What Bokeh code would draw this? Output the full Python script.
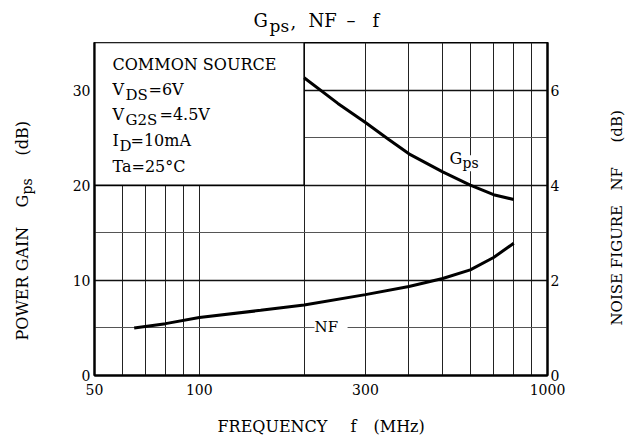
from bokeh.plotting import figure
from bokeh.layouts import column, row
from bokeh.models import (Range1d, LinearAxis, FixedTicker, Grid, Label,
                          NumeralTickFormatter)
from bokeh.embed import file_html
from bokeh.resources import INLINE
import math

# ---- data ----
gps_freq = [200, 250, 300, 350, 400, 500, 600, 700, 800]
gps_db = [31.3, 28.6, 26.6, 24.8, 23.3, 21.4, 20.0, 19.0, 18.5]

nf_freq = [65, 80, 100, 150, 200, 300, 400, 500, 600, 700, 800]
nf_db = [1.0, 1.09, 1.22, 1.37, 1.48, 1.70, 1.87, 2.04, 2.22, 2.48, 2.78]

x_ticks = [50, 100, 300, 1000]
x_grid = [60, 70, 80, 90, 100, 200, 300, 400, 500, 600, 700, 800, 900]
gps_ticks = [0, 10, 20, 30]
nf_ticks = [0, 2, 4, 6]
gps_grid_major = [10, 20, 30]
gps_grid_minor = [5, 15, 25]
inset_box = dict(left=50, right=200, bottom=20, top=35)

FONT = "DejaVu Serif"
BASE = 0.38   # label anchor sits this fraction of the font size above the baseline

# page layout (pixels): top strip, left strip, main plot, right strip, bottom strip
TOTAL_W = 632
TOP_H = 42
LEFT_W = 40
RIGHT_W = 32
MAIN_W = TOTAL_W - LEFT_W - RIGHT_W      # 560
MAIN_H = 363
BOT_H = 32
FL, FR, FT, FB = 94, 547, 42, 375        # frame edges on the page


def blank(w, h):
    f = figure(width=w, height=h, x_range=Range1d(0, w), y_range=Range1d(0, h),
               x_axis_location=None, y_axis_location=None,
               toolbar_location=None, output_backend="svg", min_border=0)
    f.outline_line_color = None
    f.background_fill_color = "white"
    f.border_fill_color = "white"
    f.title.visible = False
    for g in f.xgrid + f.ygrid:
        g.visible = False
    return f


def add_label(fig, text, x, y, size, angle=0.0, bg=None):
    kw = {}
    if bg:
        kw["background_fill_color"] = bg
    if angle == 0.0:
        y = y + BASE * size
    else:
        x = x - BASE * size
    fig.add_layout(Label(x=x, y=y, x_units="screen", y_units="screen",
                         text=text, text_font=FONT, text_font_size=f"{size}px",
                         text_color="black", text_align="left",
                         text_baseline="alphabetic", angle=angle, **kw))


# ---------------- main plot ----------------
p = figure(width=MAIN_W, height=MAIN_H, x_axis_type="log",
           x_range=Range1d(50, 1000), y_range=Range1d(0, 35),
           output_backend="svg", toolbar_location=None,
           min_border_left=FL - LEFT_W, min_border_right=LEFT_W + MAIN_W - FR,
           min_border_top=0, min_border_bottom=TOP_H + MAIN_H - FB)
p.title.visible = False
p.extra_y_ranges = {"nf": Range1d(0, 7)}
p.outline_line_color = "black"
p.outline_line_width = 2
p.background_fill_color = "white"
p.border_fill_color = "white"

p.xaxis.ticker = FixedTicker(ticks=x_ticks)
p.xaxis.formatter = NumeralTickFormatter(format="0")
p.yaxis.ticker = FixedTicker(ticks=gps_ticks)
ax_r = LinearAxis(y_range_name="nf", ticker=FixedTicker(ticks=nf_ticks))
p.add_layout(ax_r, "right")
for ax in [p.xaxis[0], p.yaxis[0], ax_r]:
    ax.axis_line_color = "black"
    ax.axis_line_width = 2
    ax.major_tick_in = 0
    ax.major_tick_out = 0
    ax.minor_tick_in = 0
    ax.minor_tick_out = 0
    ax.major_label_text_font = FONT
    ax.major_label_text_font_size = "14px"
    ax.major_label_text_color = "black"
p.xaxis.major_label_standoff = 8
p.yaxis.major_label_standoff = 4
ax_r.major_label_standoff = 3

p.xgrid.ticker = FixedTicker(ticks=x_grid)
p.xgrid.grid_line_color = "#222222"
p.xgrid.grid_line_width = 1
p.ygrid.ticker = FixedTicker(ticks=gps_grid_major)
p.ygrid.grid_line_color = "#111111"
p.ygrid.grid_line_width = 1.6
p.add_layout(Grid(dimension=1, ticker=FixedTicker(ticks=gps_grid_minor),
                  grid_line_color="#555555", grid_line_width=1))

p.quad(left=[inset_box["left"]], right=[inset_box["right"]],
       bottom=[inset_box["bottom"]], top=[inset_box["top"]],
       fill_color="white", line_color="black", line_width=1.5)

p.line(gps_freq, gps_db, line_color="black", line_width=3)
p.line(nf_freq, nf_db, line_color="black", line_width=3, y_range_name="nf")


def mlab(text, px, py, size, bg=None):
    add_label(p, text, px - FL, FB - py, size, bg=bg)


mlab("COMMON SOURCE", 112, 70, 16)
mlab("V", 112, 95, 16)
mlab("DS", 125, 100, 15)
mlab("=6V", 148, 95, 16)
mlab("V", 112, 120, 16)
mlab("G2S", 125, 125, 15)
mlab("=4.5V", 159, 120, 16)
mlab("I", 112, 146, 16)
mlab("D", 119, 151, 15)
mlab("=10mA", 130, 146, 16)
mlab("Ta=25°C", 112, 172, 16)

mlab("G", 449, 164, 16, bg="white")
mlab("ps", 462, 168, 14, bg="white")
mlab(" NF ", 314, 332, 15, bg="white")

# ---------------- title strip ----------------
top = blank(TOTAL_W, TOP_H)


def tlab(text, px, py, size):
    add_label(top, text, px, TOP_H - py, size)


tlab("G", 253, 27, 18)
tlab("ps", 269, 32, 17)
tlab(",", 290, 27, 18)
tlab("NF", 308, 27, 18)
tlab("–", 346, 27, 18)
tlab("f", 372, 27, 18)

# ---------------- left strip (frame aligned with the main frame) ----------------
r = math.pi / 2
left = blank(LEFT_W, MAIN_H)


def llab(text, px, py, size):
    add_label(left, text, px, FB - py, size, angle=r)


llab("POWER GAIN", 28, 340, 16)
llab("G", 28, 207, 16)
llab("ps", 32, 194, 14)
llab("(dB)", 28, 155, 16)

# ---------------- right strip ----------------
right = blank(RIGHT_W, MAIN_H)


def rlab(text, px, py, size):
    add_label(right, text, px - (LEFT_W + MAIN_W), FB - py, size, angle=r)


rlab("NOISE FIGURE", 622, 325, 15)
rlab("NF", 622, 190, 15)
rlab("(dB)", 622, 142, 15)

# ---------------- bottom strip ----------------
bot = blank(TOTAL_W, BOT_H)


def blab(text, px, py, size):
    add_label(bot, text, px, TOP_H + MAIN_H + BOT_H - py, size)


blab("FREQUENCY", 217, 432, 16)
blab("f", 350, 432, 16)
blab("(MHz)", 373, 432, 16)

layout = column(top, row(left, p, right), bot)
open("out.html", "w").write(file_html(layout, INLINE))
